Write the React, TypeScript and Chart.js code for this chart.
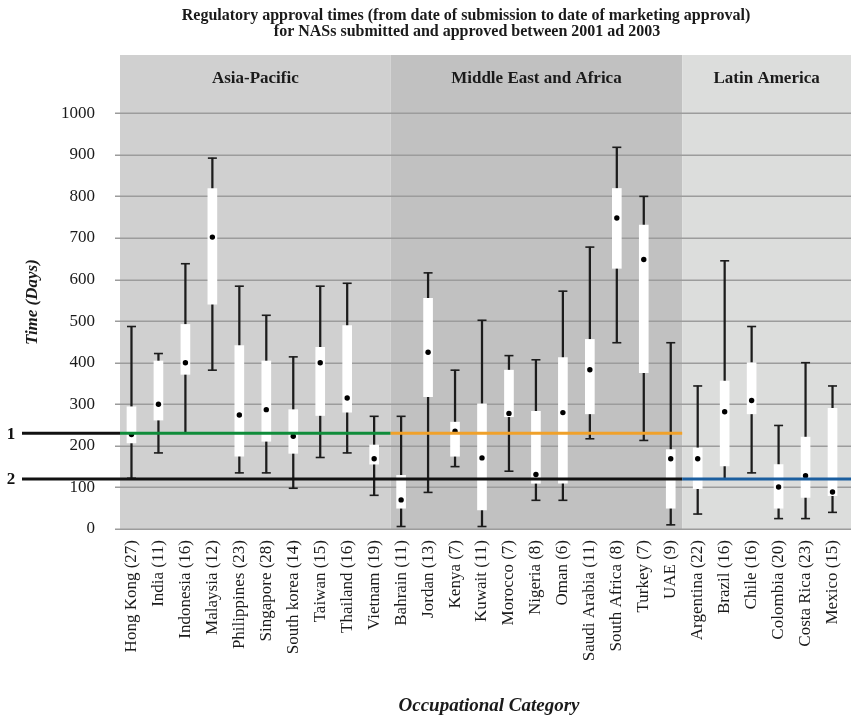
import React, { useEffect, useRef } from "react";
import { Chart, registerables } from "chart.js";

Chart.register(...registerables);

const titleLines = [
  "Regulatory approval times (from date of submission to date of marketing approval)",
  "for NASs submitted and approved between 2001 ad 2003",
];
const yAxisTitle = "Time (Days)";
const xAxisTitle = "Occupational Category";

const categories = [
  "Hong Kong", "India", "Indonesia", "Malaysia", "Philippines", "Singapore", "South korea", "Taiwan", "Thailand", "Vietnam",
  "Bahrain", "Jordan", "Kenya", "Kuwait", "Morocco", "Nigeria", "Oman", "Saudi Arabia", "South Africa", "Turkey", "UAE",
  "Argentina", "Brazil", "Chile", "Colombia", "Costa Rica", "Mexico",
];
const counts = [27, 11, 16, 12, 23, 28, 14, 15, 16, 19, 11, 13, 7, 11, 7, 8, 6, 11, 8, 7, 9, 22, 16, 16, 20, 23, 15];

const regionNames = ["Asia-Pacific", "Middle East and Africa", "Latin America"];
const regionSizes = [10, 11, 6];
const regionColors = ["#d0d0d0", "#c1c1c1", "#dcdddc"];

const whiskerMin = [122, 183, 231, 382, 135, 135, 98, 172, 183, 81, 6, 88, 150, 6, 139, 69, 69, 217, 448, 213, 10, 36, 120, 135, 25, 25, 40];
const boxLow = [207, 262, 372, 541, 175, 211, 182, 273, 281, 156, 50, 318, 175, 46, 270, 110, 110, 277, 627, 376, 50, 97, 152, 277, 50, 76, 80];
const median = [227, 300, 400, 702, 274, 287, 223, 400, 315, 169, 70, 425, 235, 171, 278, 131, 280, 383, 748, 648, 169, 169, 282, 309, 101, 128, 89];
const boxHigh = [294, 404, 492, 819, 441, 404, 287, 437, 489, 202, 129, 555, 257, 301, 382, 283, 412, 456, 819, 731, 191, 195, 356, 400, 155, 221, 290];
const whiskerMax = [487, 422, 638, 892, 584, 514, 414, 584, 591, 271, 271, 616, 382, 502, 417, 407, 572, 678, 918, 800, 448, 344, 645, 487, 249, 400, 344];

const refValue1 = 230;
const refValue2 = 120;
const refLabels = ["1", "2"];
const ref1Colors = ["#0f8c3a", "#f0a12a"]; // Asia-Pacific, Middle East
const ref2Color = "#1b5e9f"; // Latin America

const yMax = 1140;
const yStep = 100;
const yTickMax = 1000;

const SERIF = "'Liberation Serif', 'Times New Roman', serif";

const labels = categories.map((c, i) => `${c} (${counts[i]})`);

function regionBounds(chart: any) {
  const x = chart.scales.x;
  const area = chart.chartArea;
  const bounds: number[] = [area.left + 2];
  let idx = 0;
  for (let r = 0; r < regionSizes.length - 1; r++) {
    idx += regionSizes[r];
    bounds.push((x.getPixelForValue(idx - 1) + x.getPixelForValue(idx)) / 2 + (r === 0 ? 3 : -2));
  }
  bounds.push(area.right + 5);
  return bounds;
}

const decorPlugin = {
  id: "decor",
  beforeDraw(chart: any) {
    const { ctx, chartArea } = chart;
    const y = chart.scales.y;
    const b = regionBounds(chart);
    ctx.save();
    for (let r = 0; r < regionNames.length; r++) {
      ctx.fillStyle = regionColors[r];
      ctx.fillRect(b[r], chartArea.top, b[r + 1] - b[r], chartArea.bottom - chartArea.top);
    }
    ctx.strokeStyle = "#9c9c9c";
    ctx.lineWidth = 1.5;
    y.ticks.forEach((t: any) => {
      const py = Math.round(y.getPixelForValue(t.value)) + 0.25;
      ctx.beginPath();
      ctx.moveTo(chartArea.left - 3, py);
      ctx.lineTo(b[b.length - 1], py);
      ctx.stroke();
    });
    ctx.fillStyle = "#1a1a1a";
    ctx.font = `bold 17px ${SERIF}`;
    ctx.textAlign = "center";
    ctx.textBaseline = "middle";
    for (let r = 0; r < regionNames.length; r++) {
      ctx.fillText(regionNames[r], (b[r] + b[r + 1]) / 2, chartArea.top + 24);
    }
    ctx.font = `bold 16px ${SERIF}`;
    ctx.fillText(titleLines[0], 466, 16);
    ctx.fillText(titleLines[1], 467, 32);
    ctx.save();
    ctx.translate(33, 302);
    ctx.rotate(-Math.PI / 2);
    ctx.font = `italic bold 17px ${SERIF}`;
    ctx.fillText(yAxisTitle, 0, 0);
    ctx.restore();
    ctx.font = `italic bold 19px ${SERIF}`;
    ctx.fillText(xAxisTitle, 489, 706);
    ctx.restore();
  },
  afterDatasetsDraw(chart: any) {
    const { ctx } = chart;
    const y = chart.scales.y;
    const b = regionBounds(chart);
    const y1 = y.getPixelForValue(refValue1);
    const y2 = y.getPixelForValue(refValue2);
    ctx.save();
    ctx.lineWidth = 3;
    const seg = (x0: number, x1: number, yy: number, color: string) => {
      ctx.strokeStyle = color;
      ctx.beginPath();
      ctx.moveTo(x0, yy);
      ctx.lineTo(x1, yy);
      ctx.stroke();
    };
    seg(22, b[0], y1, "#111");
    seg(b[0], b[1], y1, ref1Colors[0]);
    seg(b[1], b[2], y1, ref1Colors[1]);
    seg(22, b[2], y2, "#111");
    seg(b[2], b[3], y2, ref2Color);
    ctx.fillStyle = "#111";
    ctx.font = `bold 17px ${SERIF}`;
    ctx.textAlign = "center";
    ctx.textBaseline = "middle";
    ctx.fillText(refLabels[0], 11, y1 + 1);
    ctx.fillText(refLabels[1], 11, y2 + 1);
    ctx.restore();
  },
};

export default function App() {
  const canvasRef = useRef<HTMLCanvasElement | null>(null);

  useEffect(() => {
    const canvas = canvasRef.current;
    if (!canvas) return;
    const chart = new Chart(canvas, {
      type: "bar",
      data: {
        labels,
        datasets: [
          {
            type: "bar",
            label: "whisker",
            data: whiskerMin.map((v, i) => [v, whiskerMax[i]]) as any,
            backgroundColor: "#1c1c1c",
            barThickness: 1.6,
            grouped: false,
            order: 4,
          },
          {
            type: "bar",
            label: "box",
            data: boxLow.map((v, i) => [v, boxHigh[i]]) as any,
            backgroundColor: "#ffffff",
            barThickness: 9,
            grouped: false,
            order: 3,
          },
          {
            type: "line",
            label: "min",
            data: whiskerMin,
            showLine: false,
            pointStyle: "line",
            pointRadius: 4.5,
            borderColor: "#1c1c1c",
            borderWidth: 1.6,
            order: 2,
          } as any,
          {
            type: "line",
            label: "max",
            data: whiskerMax,
            showLine: false,
            pointStyle: "line",
            pointRadius: 4.5,
            borderColor: "#1c1c1c",
            borderWidth: 1.6,
            order: 2,
          } as any,
          {
            type: "line",
            label: "median",
            data: median,
            showLine: false,
            pointStyle: "circle",
            pointRadius: 2.7,
            backgroundColor: "#000",
            borderWidth: 0,
            order: 1,
          } as any,
        ],
      },
      options: {
        responsive: false,
        animation: false,
        events: [],
        layout: { padding: { top: 55, right: 7, bottom: 0, left: 0 } },
        plugins: {
          legend: { display: false },
          tooltip: { enabled: false },
          title: { display: false },
        },
        scales: {
          x: {
            type: "category",
            offset: true,
            grid: { display: false, drawTicks: false },
            border: { display: false },
            ticks: {
              autoSkip: false,
              maxRotation: 90,
              minRotation: 90,
              padding: 11,
              color: "#1a1a1a",
              font: { family: SERIF, size: 17 },
            },
            afterFit: (scale: any) => {
              scale.height = 188;
              scale.paddingLeft = 0;
              scale.paddingRight = 0;
            },
          },
          y: {
            type: "linear",
            min: 0,
            max: yMax,
            grid: { display: false, drawTicks: false },
            border: { display: false },
            ticks: {
              stepSize: yStep,
              padding: 23,
              color: "#1a1a1a",
              font: { family: SERIF, size: 17 },
              callback: (v: any) => String(v),
            },
            afterBuildTicks: (axis: any) => {
              axis.ticks = axis.ticks.filter((t: any) => t.value <= yTickMax);
            },
            afterFit: (scale: any) => {
              scale.width = 118;
              scale.paddingTop = 0;
              scale.paddingBottom = 0;
            },
          },
        },
      },
      plugins: [decorPlugin],
    });
    return () => chart.destroy();
  }, []);

  return (
    <div style={{ position: "absolute", left: 0, top: 0, width: 853, height: 717, background: "#fff" }}>
      <canvas ref={canvasRef} width={853} height={717} style={{ width: 853, height: 717, display: "block" }} />
    </div>
  );
}
